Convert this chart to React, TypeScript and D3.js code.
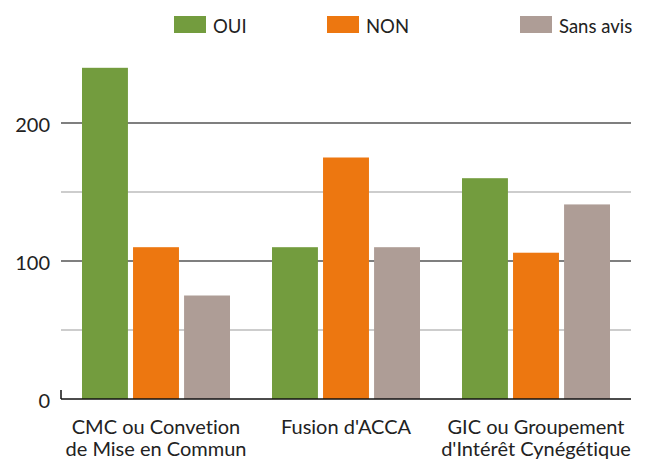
import React from "react";
import * as d3 from "d3";

const categories = [
  ["CMC ou Convetion", "de Mise en Commun"],
  ["Fusion d'ACCA"],
  ["GIC ou Groupement", "d'Intérêt Cynégétique"],
];
const seriesNames = ["OUI", "NON", "Sans avis"];
const oui = [240, 110, 160];
const non = [110, 175, 106];
const sansAvis = [75, 110, 141];
const colors = ["#739c3e", "#ed7710", "#ae9d96"];
const majorTicks = [0, 100, 200];
const minorTicks = [50, 150];

export default function App() {
  const W = 649, H = 459;
  const left = 61, right = 631, bottom = 399;
  const values = [oui, non, sansAvis];
  const x0 = d3.scaleBand<number>().domain([0, 1, 2]).range([left, right]).paddingInner(0).paddingOuter(0);
  const x1 = d3.scaleBand<number>().domain([0, 1, 2]).range([21, 169]).paddingInner(0.1).paddingOuter(0);
  const y = d3.scaleLinear().domain([0, 100]).range([bottom, bottom - 138]);
  const font = "Lato, 'Open Sans', sans-serif";
  const legendX = [174, 327, 520];
  return (
    <svg width={W} height={H} style={{ position: "absolute", left: 0, top: 0, background: "#fff", fontVariantLigatures: "none" }} fontFamily={font}>
      {minorTicks.map((t) => (
        <line key={"m" + t} x1={left} x2={right} y1={y(t)} y2={y(t)} stroke="#bdbdbd" strokeWidth={1.5} />
      ))}
      {majorTicks.filter((t) => t > 0).map((t) => (
        <line key={"M" + t} x1={left} x2={right} y1={y(t)} y2={y(t)} stroke="#555" strokeWidth={1.5} />
      ))}
      {majorTicks.map((t) => (
        <text key={"t" + t} x={50} y={y(t) + 9} textAnchor="end" fontSize={20} fill="#222">{t}</text>
      ))}
      {categories.map((c, i) =>
        values.map((s, j) => (
          <rect key={i + "-" + j} x={(x0(i) as number) + (x1(j) as number)} width={x1.bandwidth()} y={y(s[i])} height={bottom - y(s[i])} fill={colors[j]} />
        ))
      )}
      <line x1={left} x2={right} y1={bottom} y2={bottom} stroke="#111" strokeWidth={1.5} />
      <line x1={left} x2={left} y1={bottom - 9} y2={bottom} stroke="#111" strokeWidth={1.5} />
      {categories.map((c, i) => (
        <text key={"c" + i} x={(x0(i) as number) + x0.bandwidth() / 2} y={434} textAnchor="middle" fontSize={20} fill="#222">
          {c.map((l, k) => (
            <tspan key={k} x={(x0(i) as number) + x0.bandwidth() / 2} dy={k === 0 ? 0 : 22}>{l}</tspan>
          ))}
        </text>
      ))}
      {seriesNames.map((n, j) => (
        <g key={n}>
          <rect x={legendX[j]} y={16} width={32} height={17} fill={colors[j]} />
          <text x={legendX[j] + 39} y={33} fontSize={18.5} fill="#222">{n}</text>
        </g>
      ))}
    </svg>
  );
}
